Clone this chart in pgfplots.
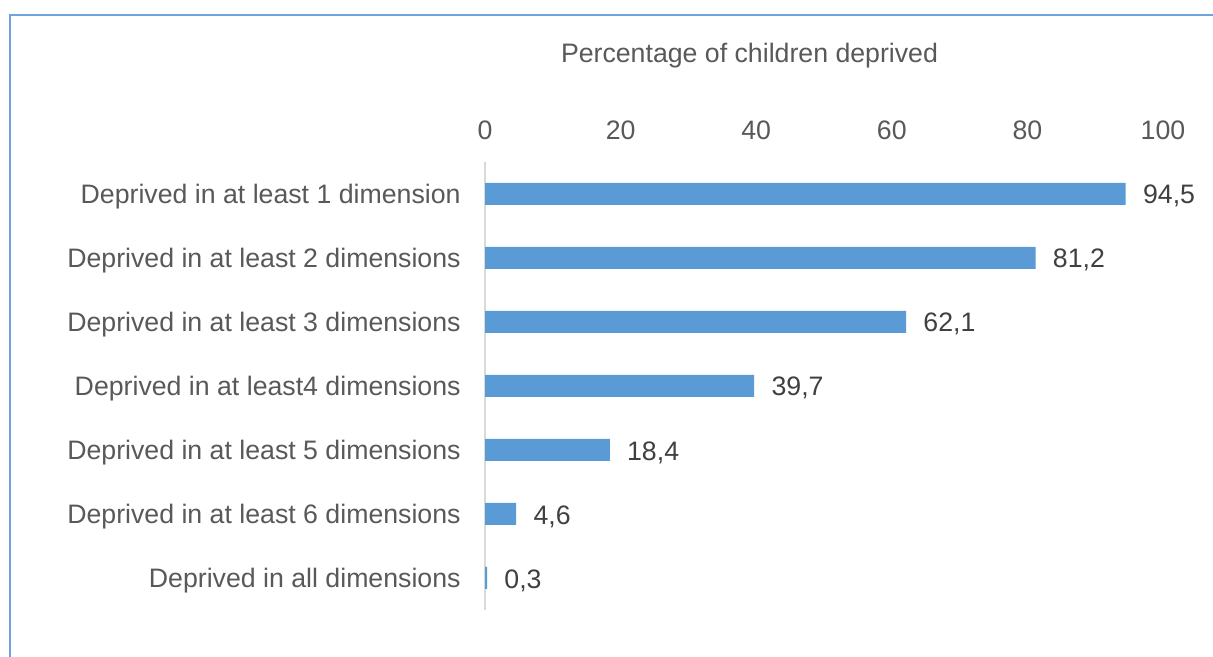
\documentclass[border=0pt]{standalone}
\usepackage{fontspec}
\setmainfont{Liberation Sans}
\usepackage{pgfplots}
\pgfplotsset{compat=1.18}
\definecolor{barblue}{HTML}{5B9BD5}
\definecolor{frameblue}{HTML}{6FA3DC}
\definecolor{labelgray}{HTML}{595959}
\definecolor{valuegray}{HTML}{404040}
\definecolor{zerogray}{HTML}{D9D9D9}
\newcommand{\chartfont}{\fontsize{13.4}{16}\selectfont}

\begin{document}
\begin{tikzpicture}
  \path[use as bounding box] (0bp,0bp) rectangle (606.5bp,328.5bp);
  \fill[white] (0bp,0bp) rectangle (606.5bp,328.5bp);
  % frame lines along the left and top edges
  \draw[frameblue, line width=1bp] (4.75bp,0bp) -- (4.75bp,321bp) -- (606.5bp,321bp);

  \node[text=labelgray, font=\chartfont, anchor=base, inner sep=0pt]
    at (374.75bp,297.25bp) {Percentage of children deprived};

  \begin{axis}[
    at={(242.5bp,23.5bp)}, anchor=south west,
    scale only axis, width=339bp, height=224bp,
    xbar, bar width=11bp,
    xmin=0, xmax=100, ymin=-0.5, ymax=6.5,
    clip=false,
    axis x line*=top, axis y line*=left,
    x axis line style={draw=none},
    y axis line style={draw=zerogray, line width=1bp},
    major tick length=0pt,
    tick style={draw=none},
    xtick={0,20,...,100},
    ytick={0,...,6},
    yticklabels={Deprived in all dimensions,
                 Deprived in at least 6 dimensions,
                 Deprived in at least 5 dimensions,
                 Deprived in at least4 dimensions,
                 Deprived in at least 3 dimensions,
                 Deprived in at least 2 dimensions,
                 Deprived in at least 1 dimension},
    /pgf/number format/assume math mode=true,
    xticklabel style={font=\chartfont, text=labelgray, anchor=base, inner sep=0pt, yshift=11bp},
    yticklabel style={font=\chartfont, text=labelgray, anchor=base east, inner sep=0pt, xshift=-12bp, yshift=-4.7bp},
    point meta=x,
    nodes near coords={\pgfmathprintnumber[fixed, fixed zerofill, precision=1, use comma]{\pgfplotspointmeta}},
    every node near coord/.style={font=\chartfont, text=valuegray, anchor=base west, inner sep=0pt, xshift=8.5bp, yshift=-5bp},
  ]
    \addplot[fill=barblue, draw=none] coordinates {
      (0.3,0) (4.6,1) (18.4,2) (39.7,3) (62.1,4) (81.2,5) (94.5,6)
    };
  \end{axis}
\end{tikzpicture}
\end{document}
